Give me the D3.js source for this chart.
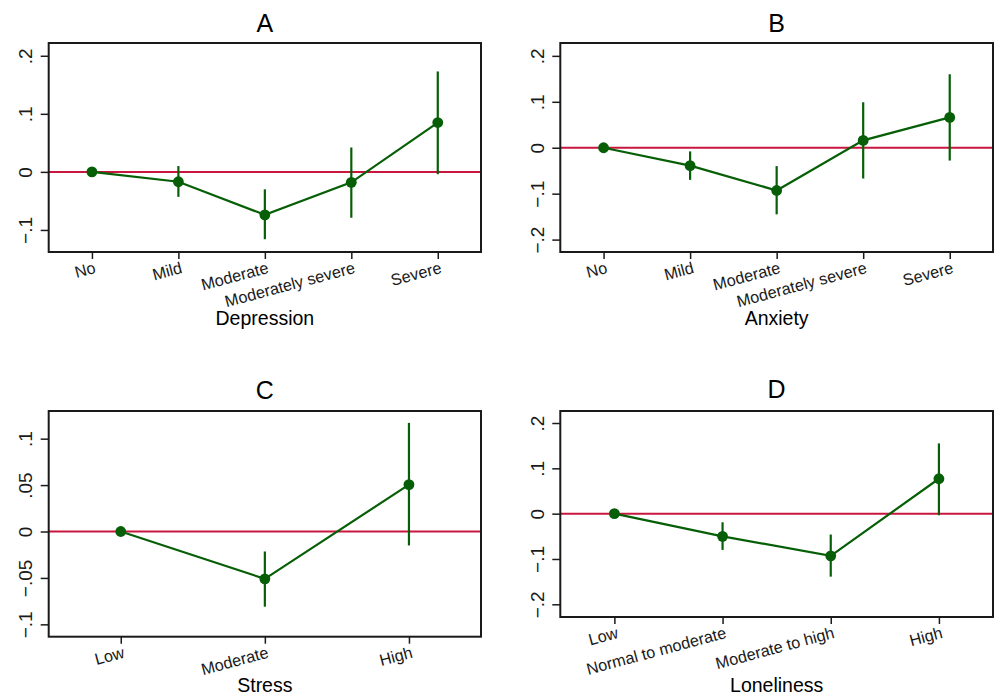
<!DOCTYPE html>
<html>
<head>
<meta charset="utf-8">
<script src="https://cdn.jsdelivr.net/npm/d3@7"></script>
<style>
  html, body { margin: 0; padding: 0; background: #fff; }
  svg { display: block; font-family: "Liberation Sans", Arial, Helvetica, sans-serif; }
</style>
</head>
<body>
<svg id="chart" width="1001" height="696"></svg>
<script>
// ---- Data ----
const titles = ["A", "B", "C", "D"];
const axisTitles = ["Depression", "Anxiety", "Stress", "Loneliness"];

const catsA = ["No", "Mild", "Moderate", "Moderately severe", "Severe"];
const estA = [0, -0.017, -0.074, -0.018, 0.085];
const loA  = [0, -0.043, -0.116, -0.079, -0.004];
const hiA  = [0, 0.010, -0.030, 0.042, 0.173];

const catsB = ["No", "Mild", "Moderate", "Moderately severe", "Severe"];
const estB = [0, -0.039, -0.093, 0.016, 0.066];
const loB  = [0, -0.070, -0.145, -0.067, -0.028];
const hiB  = [0, -0.008, -0.040, 0.099, 0.160];

const catsC = ["Low", "Moderate", "High"];
const estC = [0, -0.051, 0.0505];
const loC  = [0, -0.081, -0.015];
const hiC  = [0, -0.0215, 0.117];

const catsD = ["Low", "Normal to moderate", "Moderate to high", "High"];
const estD = [0, -0.050, -0.093, 0.077];
const loD  = [0, -0.080, -0.139, -0.0035];
const hiD  = [0, -0.019, -0.046, 0.155];

const yTicksA = [-0.1, 0, 0.1, 0.2];
const yLabelsA = ["\u2212.1", "0", ".1", ".2"];
const yTicksB = [-0.2, -0.1, 0, 0.1, 0.2];
const yLabelsB = ["\u2212.2", "\u2212.1", "0", ".1", ".2"];
const yTicksC = [-0.1, -0.05, 0, 0.05, 0.1];
const yLabelsC = ["\u2212.1", "\u2212.05", "0", ".05", ".1"];
const yTicksD = [-0.2, -0.1, 0, 0.1, 0.2];
const yLabelsD = ["\u2212.2", "\u2212.1", "0", ".1", ".2"];

const yDomA = [-0.138, 0.222];
const yDomB = [-0.227, 0.228];
const yDomC = [-0.1133, 0.1298];
const yDomD = [-0.228, 0.2265];

// ---- Layout ----
const panels = [
  { cats: catsA, est: estA, lo: loA, hi: hiA, yt: yTicksA, yl: yLabelsA, yd: yDomA,
    box: { x0: 48.7, x1: 481, y0: 43, y1: 252 }, titleY: 32, axTitleY: 325 },
  { cats: catsB, est: estB, lo: loB, hi: hiB, yt: yTicksB, yl: yLabelsB, yd: yDomB,
    box: { x0: 560.3, x1: 993, y0: 43, y1: 252 }, titleY: 32, axTitleY: 325 },
  { cats: catsC, est: estC, lo: loC, hi: hiC, yt: yTicksC, yl: yLabelsC, yd: yDomC,
    box: { x0: 48.7, x1: 481, y0: 411, y1: 636.7 }, titleY: 399, axTitleY: 692 },
  { cats: catsD, est: estD, lo: loD, hi: hiD, yt: yTicksD, yl: yLabelsD, yd: yDomD,
    box: { x0: 560.3, x1: 993, y0: 411, y1: 617 }, titleY: 398, axTitleY: 692 }
];

const GREEN = "#065f06";
const RED = "#c8163f";
const INK = "#1a1a1a";

const svg = d3.select("#chart");

panels.forEach((p, i) => {
  const b = p.box;
  const g = svg.append("g");
  const x = d3.scalePoint().domain(p.cats).range([b.x0, b.x1]).padding(0.5);
  const y = d3.scaleLinear().domain(p.yd).range([b.y1, b.y0]);

  // zero reference line
  g.append("line")
    .attr("x1", b.x0).attr("x2", b.x1)
    .attr("y1", y(0)).attr("y2", y(0))
    .attr("stroke", RED).attr("stroke-width", 2);

  // CI lines
  p.cats.forEach((c, k) => {
    if (p.lo[k] === p.hi[k]) return;
    g.append("line")
      .attr("x1", x(c)).attr("x2", x(c))
      .attr("y1", y(p.lo[k])).attr("y2", y(p.hi[k]))
      .attr("stroke", GREEN).attr("stroke-width", 2.2);
  });

  // connecting line
  const line = d3.line().x((d, k) => x(p.cats[k])).y(d => y(d));
  g.append("path").datum(p.est)
    .attr("d", line)
    .attr("fill", "none").attr("stroke", GREEN).attr("stroke-width", 2.2);

  // markers
  g.selectAll("circle.pt").data(p.est).join("circle")
    .attr("class", "pt")
    .attr("cx", (d, k) => x(p.cats[k]))
    .attr("cy", d => y(d))
    .attr("r", 5.4)
    .attr("fill", GREEN);

  // frame
  g.append("rect")
    .attr("x", b.x0).attr("y", b.y0)
    .attr("width", b.x1 - b.x0).attr("height", b.y1 - b.y0)
    .attr("fill", "none").attr("stroke", INK).attr("stroke-width", 2);

  // y axis
  const yAxis = d3.axisLeft(y).tickValues(p.yt)
    .tickFormat((d, k) => p.yl[k]).tickSize(8).tickPadding(9);
  const ya = g.append("g").attr("transform", `translate(${b.x0},0)`).call(yAxis);
  ya.select(".domain").remove();
  ya.selectAll(".tick line").attr("stroke", INK).attr("stroke-width", 1.5);
  ya.selectAll(".tick text")
    .attr("x", null).attr("dy", null)
    .attr("transform", "translate(-16.5,0) rotate(-90)")
    .attr("text-anchor", "middle")
    .attr("fill", INK)
    .style("font-size", "19px");

  // x axis
  const xAxis = d3.axisBottom(x).tickSize(7).tickPadding(0);
  const xa = g.append("g").attr("transform", `translate(0,${b.y1})`).call(xAxis);
  xa.select(".domain").remove();
  xa.selectAll(".tick line").attr("stroke", INK).attr("stroke-width", 1.5);
  xa.selectAll(".tick text")
    .attr("y", 0).attr("dy", "0.74em")
    .attr("transform", "translate(1,9) rotate(-15)")
    .attr("text-anchor", "end")
    .attr("fill", INK)
    .style("font-size", "16.3px");

  // panel title
  g.append("text")
    .attr("x", (b.x0 + b.x1) / 2).attr("y", p.titleY)
    .attr("text-anchor", "middle")
    .attr("fill", "#000")
    .style("font-size", "25px")
    .text(titles[i]);

  // axis title
  g.append("text")
    .attr("x", (b.x0 + b.x1) / 2).attr("y", p.axTitleY)
    .attr("text-anchor", "middle")
    .attr("fill", "#000")
    .style("font-size", "19.5px")
    .text(axisTitles[i]);
});
</script>
</body>
</html>
